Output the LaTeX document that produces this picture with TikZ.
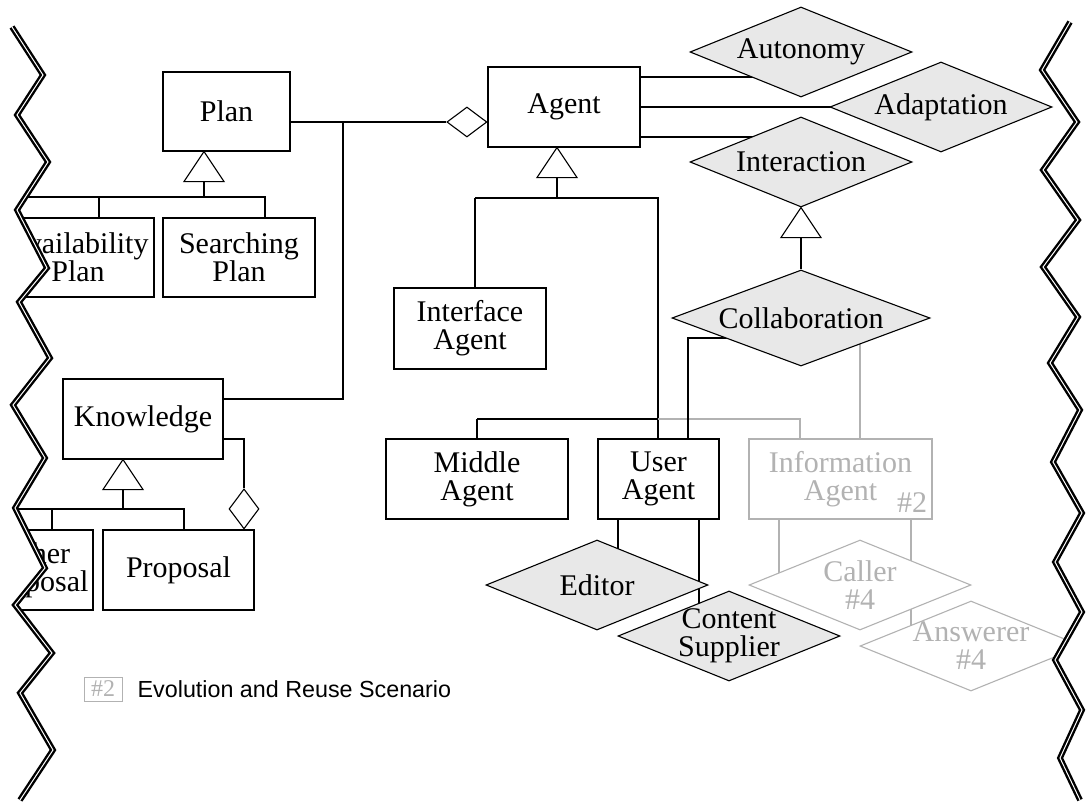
\documentclass[tikz,border=0pt]{standalone}
\usepackage{fontspec}
\setmainfont{Liberation Serif}
\setsansfont{Liberation Sans}
\usetikzlibrary{shapes.geometric, backgrounds, positioning}

\tikzset{
  cls/.style={draw, fill=white, line width=1.1pt, inner sep=0pt, align=center,
    font=\fontsize{30}{28}\selectfont},
  role/.style={draw, diamond, fill=black!9, line width=1.1pt, inner xsep=0pt,
    inner ysep=-8pt, aspect=2.47, minimum width=222pt, minimum height=90pt,
    align=center, font=\fontsize{30}{28}\selectfont},
  ghost/.style={draw=black!30, text=black!30, fill=white},
  gen/.style={draw, fill=white, line width=1.1pt},
  aggr/.style={draw, diamond, fill=white, line width=1.1pt, inner sep=0pt},
  link/.style={line width=1.1pt},
  greylink/.style={line width=1.1pt, black!30},
  zig/.style={line width=2.4pt, double=white, double distance=1pt},
}

% torn edges of the page
\def\leftzig{(12,27) -- (43,75) -- (17,115) -- (48,162) -- (17,210) -- (47,268)
  -- (19,302) -- (50,358) -- (13,405) -- (45,458) -- (15,508) -- (45,568)
  -- (15,605) -- (52,653) -- (20,693) -- (53,750) -- (20,800)}
\def\rightzig{(1070,22) -- (1042,70) -- (1077,122) -- (1043,170) -- (1078,220)
  -- (1043,267) -- (1078,317) -- (1050,363) -- (1080,410) -- (1053,462)
  -- (1082,513) -- (1055,562) -- (1082,612) -- (1055,660) -- (1082,710)
  -- (1060,758) -- (1080,800)}

\begin{document}
\begin{tikzpicture}[x=1pt, y=-1pt]
    \useasboundingbox (0,0) rectangle (1086,808);

    % Plan and Knowledge classes
    \node[cls, minimum width=127pt, minimum height=79pt] (plan) at (226.5,111.5) {Plan};
    \node[cls, minimum width=152pt, minimum height=79pt] (avail) at (78,257.5) {Availability\\Plan};
    \node[cls, minimum width=152pt, minimum height=79pt] (search) at (239,257.5) {Searching\\Plan};
    \node[cls, minimum width=160pt, minimum height=80pt] (know) at (143,419) {Knowledge};
    \node[cls, minimum width=114pt, minimum height=80pt] (other) at (36,570) {Other\\Proposal};
    \node[cls, minimum width=151pt, minimum height=80pt] (proposal) at (178.5,570) {Proposal};

    % Agent classes
    \node[cls, minimum width=152pt, minimum height=80pt] (agent) at (564,107) {Agent};
    \node[cls, minimum width=152pt, minimum height=81pt] (iface) at (470,328.5) {Interface\\Agent};
    \node[cls, minimum width=182pt, minimum height=80pt] (middle) at (477,479) {Middle\\Agent};
    \node[cls, minimum width=121pt, minimum height=80pt] (user) at (658.5,479) {User\\Agent};
    \node[cls, ghost, minimum width=183pt, minimum height=80pt] (info) at (840.5,479) {Information\\Agent};
    \node[text=black!30, inner sep=0pt, font=\fontsize{30}{28}\selectfont] (infotag) at (912,503) {\#2};

    % Roles
    \node[role] (auton) at (801,52) {Autonomy};
    \node[role] (adapt) at (941,107) {Adaptation};
    \node[role] (inter) at (801,162) {Interaction};
    \node[role, aspect=2.69, minimum width=258pt, minimum height=96pt] (collab) at (801,318) {Collaboration};
    \node[role] (editor) at (597,585) {Editor};
    \node[role] (content) at (729,636) {Content\\Supplier};
    \node[role, ghost] (answer) at (971,646) {Answerer\\\#4};
    \node[role, ghost] (caller) at (860,585) {Caller\\\#4};

    % Aggregation diamonds
    \node[aggr, minimum width=40pt, minimum height=30pt, anchor=east] (agg1) at (agent.west |- 0,122) {};
    \node[aggr, minimum width=30pt, minimum height=40pt, anchor=south] (agg2) at (proposal.north -| 244,0) {};

    % Generalization triangles
    \filldraw[gen] (plan.south -| 204,0) -- ++(-20,30) -- ++(40,0) -- cycle;
    \filldraw[gen] (know.south -| 123,0) -- ++(-20,30) -- ++(40,0) -- cycle;
    \filldraw[gen] (agent.south -| 557,0) -- ++(-20,30) -- ++(40,0) -- cycle;
    \filldraw[gen] (inter.south) -- ++(-20,30) -- ++(40,0) -- cycle;

    \begin{pgfonlayer}{background}
        % Plan, Knowledge and Agent
        \draw[link] (plan.east |- 0,122) -- (agg1.west);
        \draw[link] (343,122) |- (know.east |- 0,399);
        \draw[link] (know.east |- 0,439) -| (agg2.north);

        % Plan subclasses
        \draw[link] (204,181) -- (204,197) (-10,197) -- (265,197) -- (search.north -| 265,0)
            (99,197) -- (avail.north -| 99,0);

        % Knowledge subclasses
        \draw[link] (123,489) -- (123,509) (-10,509) -- (184,509) -- (proposal.north -| 184,0)
            (52,509) -- (other.north -| 52,0);

        % Agent subclasses
        \draw[link] (557,177) -- (557,198) (475,198) -- (658,198) -- (user.north -| 658,0)
            (475,198) -- (iface.north -| 475,0)
            (477,419) -- (658,419) (477,419) -- (middle.north -| 477,0);
        \draw[greylink] (658,419) -- (800,419) -- (info.north -| 800,0);

        % Agent roles
        \draw[link] (agent.east |- 0,77) -- (auton.center |- 0,77);
        \draw[link] (agent.east) -- (adapt.center);
        \draw[link] (agent.east |- 0,137) -- (inter.center |- 0,137);
        \draw[link] (inter.south) ++(0,30) -- (collab.north);

        % roles of the agents
        \draw[link] (user.north -| 688,0) |- (collab.center |- 0,338);
        \draw[greylink] (info.north -| 860,0) -- (collab.center -| 860,0);
        \draw[link] (user.south -| 618,0) -- (editor.center -| 618,0);
        \draw[link] (user.south -| 699,0) -- (content.center -| 699,0);
        \draw[greylink] (info.south -| 779,0) -- (caller.center -| 779,0);
        \draw[greylink] (info.south -| 911,0) -- (answer.center -| 911,0);
    \end{pgfonlayer}

    % Legend
    \node[draw=black!30, text=black!30, line width=1pt, minimum width=38pt, minimum height=24pt,
        inner sep=0pt, font=\fontsize{24}{24}\selectfont] (legtag) at (103,689) {\#2};
    \node[right=15pt of legtag, inner sep=0pt, font=\sffamily\fontsize{23.3}{24}\selectfont]
        (legtext) {Evolution and Reuse Scenario};

    % Torn edges
    \fill[white] \leftzig -- (-40,800) -- (-40,27) -- cycle;
    \fill[white] \rightzig -- (1120,800) -- (1120,22) -- cycle;
    \draw[zig] \leftzig;
    \draw[zig] \rightzig;

\end{tikzpicture}
\end{document}
